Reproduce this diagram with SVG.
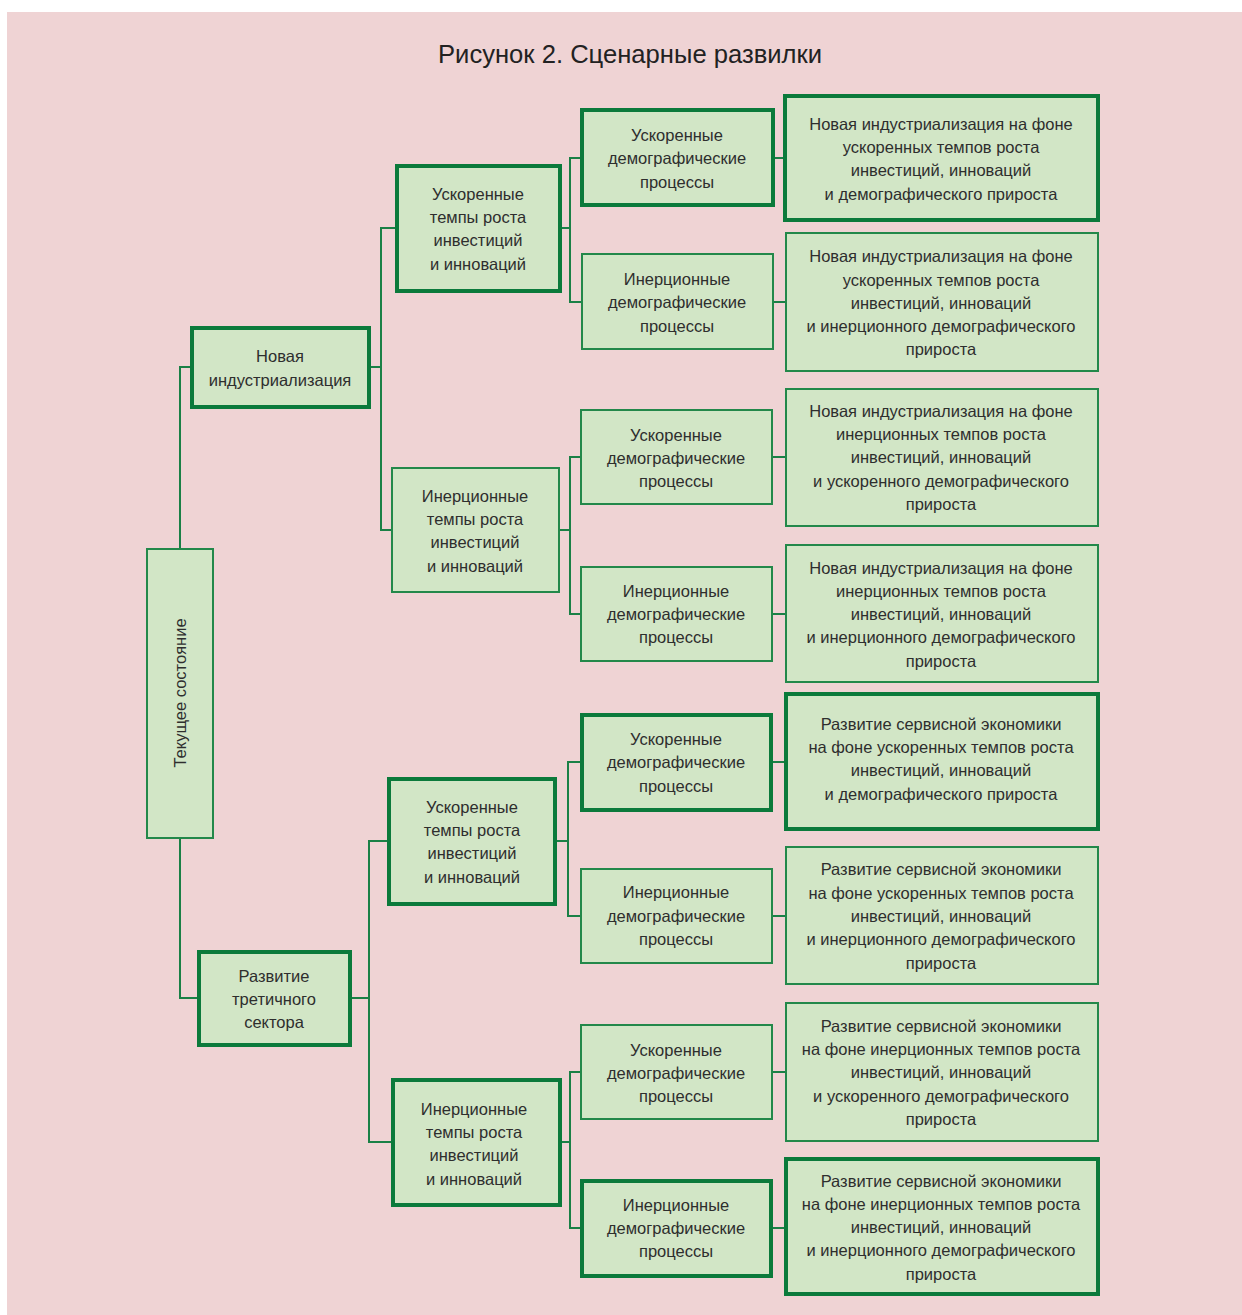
<svg xmlns="http://www.w3.org/2000/svg" width="1242" height="1315" viewBox="0 0 1242 1315">
<style>
.bg{fill:#EFD3D4}
.thick{fill:#D2E6C6;stroke:#0B7A3B;stroke-width:4}
.thin{fill:#D2E6C6;stroke:#23884A;stroke-width:2}
.con{fill:none;stroke:#1A8046;stroke-width:2}
text{font-family:"Liberation Sans",Arial,sans-serif;font-size:16.5px;fill:#2E2E2E;text-anchor:middle}
.title{font-size:26px;fill:#222}
</style>
<rect class="bg" x="7" y="12" width="1235" height="1303"/>
<text class="title" x="630" y="63" textLength="384" lengthAdjust="spacingAndGlyphs">Рисунок 2. Сценарные развилки</text>
<g id="connectors">
<path class="con" d="M180 548 V367 H190"/>
<path class="con" d="M180 839 V998 H197"/>
<path class="con" d="M371 367 H381"/>
<path class="con" d="M395 228 H381 V530 H391"/>
<path class="con" d="M352 998 H369"/>
<path class="con" d="M387 841 H369 V1142 H391"/>
<path class="con" d="M562 228 H570"/>
<path class="con" d="M580 158 H570 V302 H581"/>
<path class="con" d="M560 530 H570"/>
<path class="con" d="M580 457 H570 V614 H580"/>
<path class="con" d="M557 841 H568"/>
<path class="con" d="M580 762 H568 V916 H580"/>
<path class="con" d="M562 1142 H570"/>
<path class="con" d="M580 1072 H570 V1228 H580"/>
<path class="con" d="M775 158 H783"/>
<path class="con" d="M774 302 H785"/>
<path class="con" d="M773 457 H785"/>
<path class="con" d="M773 614 H785"/>
<path class="con" d="M773 762 H784"/>
<path class="con" d="M773 916 H785"/>
<path class="con" d="M773 1072 H785"/>
<path class="con" d="M773 1228 H784"/>
</g>
<g id="root">
<rect class="thin" x="147" y="549" width="66" height="289"/>
<text transform="translate(186 693) rotate(-90)">Текущее состояние</text>
</g>
<g id="n1">
<rect class="thick" x="192" y="328" width="177" height="79"/>
<text><tspan x="280" y="362">Новая</tspan><tspan x="280" y="386">индустриализация</tspan></text>
</g>
<g id="n2">
<rect class="thick" x="199" y="952" width="151" height="93"/>
<text><tspan x="274" y="982">Развитие</tspan><tspan x="274" y="1005">третичного</tspan><tspan x="274" y="1028">сектора</tspan></text>
</g>
<g id="n1a">
<rect class="thick" x="397" y="166" width="163" height="125"/>
<text><tspan x="478" y="200">Ускоренные</tspan><tspan x="478" y="223">темпы роста</tspan><tspan x="478" y="246">инвестиций</tspan><tspan x="478" y="270">и инноваций</tspan></text>
</g>
<g id="n1b">
<rect class="thin" x="392" y="468" width="167" height="124"/>
<text><tspan x="475" y="502">Инерционные</tspan><tspan x="475" y="525">темпы роста</tspan><tspan x="475" y="548">инвестиций</tspan><tspan x="475" y="572">и инноваций</tspan></text>
</g>
<g id="n2a">
<rect class="thick" x="389" y="779" width="166" height="125"/>
<text><tspan x="472" y="813">Ускоренные</tspan><tspan x="472" y="836">темпы роста</tspan><tspan x="472" y="859">инвестиций</tspan><tspan x="472" y="883">и инноваций</tspan></text>
</g>
<g id="n2b">
<rect class="thick" x="393" y="1080" width="167" height="125"/>
<text><tspan x="474" y="1115">Инерционные</tspan><tspan x="474" y="1138">темпы роста</tspan><tspan x="474" y="1161">инвестиций</tspan><tspan x="474" y="1185">и инноваций</tspan></text>
</g>
<g id="d1">
<rect class="thick" x="582" y="110" width="191" height="95"/>
<text><tspan x="677" y="141">Ускоренные</tspan><tspan x="677" y="164">демографические</tspan><tspan x="677" y="188">процессы</tspan></text>
</g>
<g id="d2">
<rect class="thin" x="582" y="254" width="191" height="95"/>
<text><tspan x="677" y="285">Инерционные</tspan><tspan x="677" y="308">демографические</tspan><tspan x="677" y="332">процессы</tspan></text>
</g>
<g id="d3">
<rect class="thin" x="581" y="410" width="191" height="94"/>
<text><tspan x="676" y="441">Ускоренные</tspan><tspan x="676" y="464">демографические</tspan><tspan x="676" y="487">процессы</tspan></text>
</g>
<g id="d4">
<rect class="thin" x="581" y="567" width="191" height="94"/>
<text><tspan x="676" y="597">Инерционные</tspan><tspan x="676" y="620">демографические</tspan><tspan x="676" y="643">процессы</tspan></text>
</g>
<g id="d5">
<rect class="thick" x="582" y="715" width="189" height="95"/>
<text><tspan x="676" y="745">Ускоренные</tspan><tspan x="676" y="768">демографические</tspan><tspan x="676" y="792">процессы</tspan></text>
</g>
<g id="d6">
<rect class="thin" x="581" y="869" width="191" height="94"/>
<text><tspan x="676" y="898">Инерционные</tspan><tspan x="676" y="922">демографические</tspan><tspan x="676" y="945">процессы</tspan></text>
</g>
<g id="d7">
<rect class="thin" x="581" y="1025" width="191" height="94"/>
<text><tspan x="676" y="1056">Ускоренные</tspan><tspan x="676" y="1079">демографические</tspan><tspan x="676" y="1102">процессы</tspan></text>
</g>
<g id="d8">
<rect class="thick" x="582" y="1181" width="189" height="95"/>
<text><tspan x="676" y="1211">Инерционные</tspan><tspan x="676" y="1234">демографические</tspan><tspan x="676" y="1257">процессы</tspan></text>
</g>
<g id="s1">
<rect class="thick" x="785" y="96" width="313" height="124"/>
<text><tspan x="941" y="130">Новая индустриализация на фоне</tspan><tspan x="941" y="153">ускоренных темпов роста</tspan><tspan x="941" y="176">инвестиций, инноваций</tspan><tspan x="941" y="200">и демографического прироста</tspan></text>
</g>
<g id="s2">
<rect class="thin" x="786" y="233" width="312" height="138"/>
<text><tspan x="941" y="262">Новая индустриализация на фоне</tspan><tspan x="941" y="286">ускоренных темпов роста</tspan><tspan x="941" y="309">инвестиций, инноваций</tspan><tspan x="941" y="332">и инерционного демографического</tspan><tspan x="941" y="355">прироста</tspan></text>
</g>
<g id="s3">
<rect class="thin" x="786" y="389" width="312" height="137"/>
<text><tspan x="941" y="417">Новая индустриализация на фоне</tspan><tspan x="941" y="440">инерционных темпов роста</tspan><tspan x="941" y="463">инвестиций, инноваций</tspan><tspan x="941" y="487">и ускоренного демографического</tspan><tspan x="941" y="510">прироста</tspan></text>
</g>
<g id="s4">
<rect class="thin" x="786" y="545" width="312" height="137"/>
<text><tspan x="941" y="574">Новая индустриализация на фоне</tspan><tspan x="941" y="597">инерционных темпов роста</tspan><tspan x="941" y="620">инвестиций, инноваций</tspan><tspan x="941" y="643">и инерционного демографического</tspan><tspan x="941" y="667">прироста</tspan></text>
</g>
<g id="s5">
<rect class="thick" x="786" y="694" width="312" height="135"/>
<text><tspan x="941" y="730">Развитие сервисной экономики</tspan><tspan x="941" y="753">на фоне ускоренных темпов роста</tspan><tspan x="941" y="776">инвестиций, инноваций</tspan><tspan x="941" y="800">и демографического прироста</tspan></text>
</g>
<g id="s6">
<rect class="thin" x="786" y="847" width="312" height="137"/>
<text><tspan x="941" y="875">Развитие сервисной экономики</tspan><tspan x="941" y="899">на фоне ускоренных темпов роста</tspan><tspan x="941" y="922">инвестиций, инноваций</tspan><tspan x="941" y="945">и инерционного демографического</tspan><tspan x="941" y="969">прироста</tspan></text>
</g>
<g id="s7">
<rect class="thin" x="786" y="1003" width="312" height="138"/>
<text><tspan x="941" y="1032">Развитие сервисной экономики</tspan><tspan x="941" y="1055">на фоне инерционных темпов роста</tspan><tspan x="941" y="1078">инвестиций, инноваций</tspan><tspan x="941" y="1102">и ускоренного демографического</tspan><tspan x="941" y="1125">прироста</tspan></text>
</g>
<g id="s8">
<rect class="thick" x="786" y="1159" width="312" height="135"/>
<text><tspan x="941" y="1187">Развитие сервисной экономики</tspan><tspan x="941" y="1210">на фоне инерционных темпов роста</tspan><tspan x="941" y="1233">инвестиций, инноваций</tspan><tspan x="941" y="1256">и инерционного демографического</tspan><tspan x="941" y="1280">прироста</tspan></text>
</g>
</svg>
